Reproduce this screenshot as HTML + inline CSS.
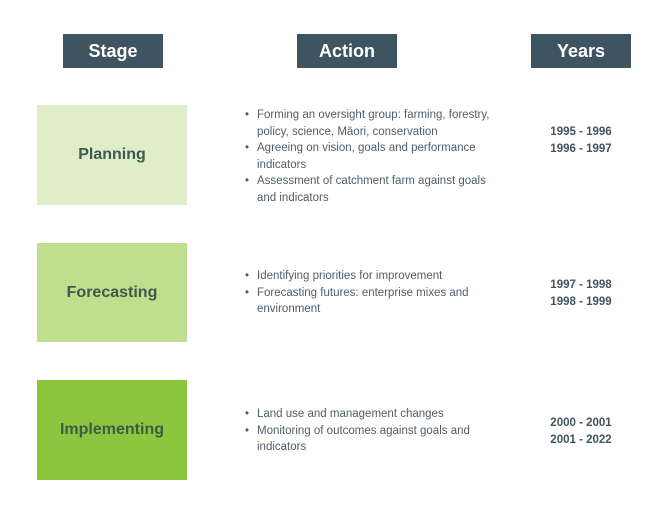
<!DOCTYPE html>
<html><head><style>
body{margin:0;width:672px;height:509px;background:#fff;font-family:"Liberation Sans",sans-serif;position:relative;overflow:hidden}
.h{position:absolute;top:34px;width:100px;height:34px;background:#3f5461;color:#fff;font-weight:bold;font-size:18px;line-height:34px;text-align:center}
.s{position:absolute;left:37px;width:150px;color:#3d5a4a;font-weight:bold;font-size:16px;text-align:center}
.a{position:absolute;left:244px;width:256px;color:#4e5e6a;font-size:11.5px;line-height:16.5px}
.a div{padding-left:13px;position:relative}
.a div:before{content:"•";position:absolute;left:1px}
.y{position:absolute;left:531px;width:100px;text-align:center;color:#3f5461;font-weight:bold;font-size:11.5px;line-height:16.5px}
</style></head><body>
<div class="h" style="left:63px">Stage</div>
<div class="h" style="left:297px">Action</div>
<div class="h" style="left:531px">Years</div>

<div class="s" style="top:105px;height:100px;line-height:100px;background:#dfedc8">Planning</div>
<div class="s" style="top:243px;height:99px;line-height:99px;background:#bfdf8e">Forecasting</div>
<div class="s" style="top:380px;height:100px;line-height:100px;background:#8cc63f">Implementing</div>

<div class="a" style="top:107px">
<div>Forming an oversight group: farming, forestry, policy, science, Māori, conservation</div>
<div>Agreeing on vision, goals and performance indicators</div>
<div>Assessment of catchment farm against goals and indicators</div>
</div>
<div class="a" style="top:268px">
<div>Identifying priorities for improvement</div>
<div>Forecasting futures: enterprise mixes and environment</div>
</div>
<div class="a" style="top:406px">
<div>Land use and management changes</div>
<div>Monitoring of outcomes against goals and indicators</div>
</div>

<div class="y" style="top:124px">1995 - 1996<br>1996 - 1997</div>
<div class="y" style="top:277px">1997 - 1998<br>1998 - 1999</div>
<div class="y" style="top:415px">2000 - 2001<br>2001 - 2022</div>
</body></html>
